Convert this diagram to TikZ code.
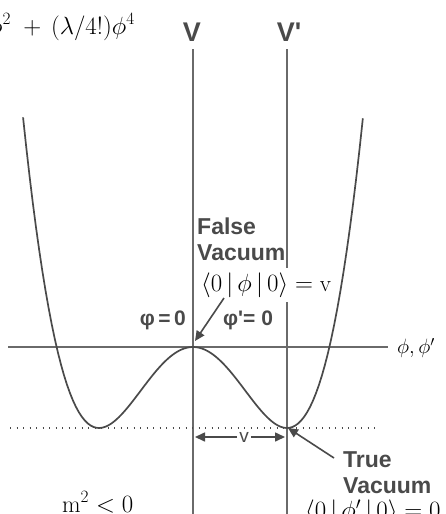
\documentclass[tikz,border=0pt]{standalone}
\usepackage{fontspec}
\newfontfamily\lab{Liberation Sans}
\usetikzlibrary{arrows.meta}
\definecolor{ax}{HTML}{6A6A6A}
\definecolor{ink}{HTML}{4A4A4A}
\begin{document}
\begin{tikzpicture}[x=1pt,y=-1pt,
  axis/.style={draw=ax,line width=1.6pt},
  curve/.style={draw=ink,line width=1.7pt},
  bold/.style={font=\lab\bfseries\fontsize{23}{26}\selectfont, text=ink, inner sep=0pt, align=left},
  zero/.style={font=\lab\bfseries\fontsize{21}{21}\selectfont, text=ink, inner sep=0pt},
  axlbl/.style={font=\lab\bfseries\fontsize{27}{27}\selectfont, text=ink, inner sep=0pt},
  mathlbl/.style={font=\fontsize{23}{23}\selectfont, text=black, inner sep=0pt},
  arr/.style={draw=ink, line width=1.6pt, -{Triangle[length=10pt,width=9pt]}},
  dotline/.style={draw=ink, line width=1.3pt, dash pattern=on 1.3pt off 5.2pt},
]
\useasboundingbox (0,0) rectangle (446,514);

% axes
\coordinate (Vtop) at (193,49);
\coordinate (Vbot) at (193,514);
\coordinate (Wtop) at (287,49);
\coordinate (Wbot) at (287,514);
\coordinate (Hl) at (8,347);
\coordinate (Hr) at (388,347);
\coordinate (Dl) at (10,428);
\coordinate (Dr) at (376,428);
\draw[axis] (Vtop) -- (Vbot);
\draw[axis] (Wtop) -- (Wbot);
\draw[axis] (Hl) -- (Hr);
\draw[dotline] (Dl) -- (Dr);

% potential curve
\draw[curve] plot[domain=-1.72:1.72, samples=120]
  ({193+91.5*\x+2.47*\x*\x*\x},{428-81*(\x*\x-1)*(\x*\x-1)});

% axis labels
\node[axlbl] (V) at (192,32) {V};
\node[axlbl] (Vp) at (289,32) {V'};
\node[font=\fontsize{20}{20}\selectfont, inner sep=0pt, anchor=west] (phis) at (397,348) {$\phi,\phi'$};

% formula
\node[font=\fontsize{26}{26}\selectfont, anchor=base west, inner sep=0pt] (pot) at (-12,34)
  {$\phi^2\;+\,(\lambda/4!)\phi^4$};
\node[font=\fontsize{24}{24}\selectfont, anchor=base west, inner sep=0pt] (m2) at (62,512)
  {$\mathrm{m}^2 < 0$};

% false vacuum
\node[bold, anchor=north west] (false) at (197,218) {False\\Vacuum};
\node[mathlbl, anchor=west, fill=white, inner xsep=1pt, inner ysep=5pt] (fbk) at (200,285)
  {$\langle 0\,|\,\phi\,|\,0\rangle = \mathrm{v}$};
\node[zero, anchor=east] (phi0) at (186,320) {φ\,=\,0};
\node[zero, anchor=west] (phip0) at (223,320) {φ'=\ 0};
\coordinate (fa) at (224,298);
\coordinate (maxp) at (195,341);
\draw[arr] (fa) -- (maxp);

% true vacuum
\node[bold, anchor=north west] (true) at (343,451) {True\\Vacuum};
\node[mathlbl, anchor=north west] (tbk) at (305,500)
  {$\langle 0\,|\,\phi'\,|\,0\rangle = 0$};
\coordinate (ta) at (334,458);
\coordinate (minp) at (288,428);
\draw[arr] (ta) -- (minp);

% v distance
\node[font=\lab\fontsize{19}{19}\selectfont, text=ink, inner sep=2pt] (vl) at (244,437) {v};
\coordinate (va) at (195,437);
\coordinate (vb) at (285,437);
\draw[arr] (vl.west) -- (va);
\draw[arr] (vl.east) -- (vb);
\end{tikzpicture}
\end{document}
